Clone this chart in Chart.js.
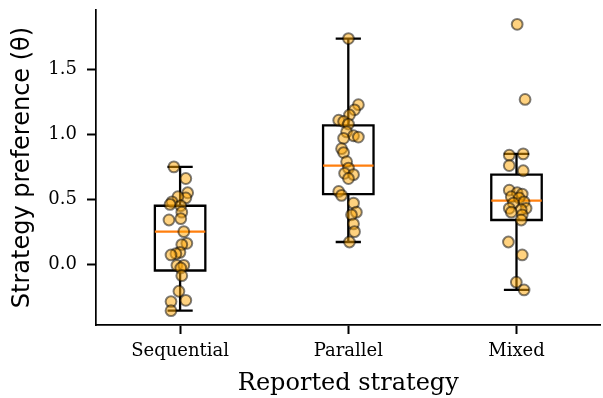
<!DOCTYPE html>
<html>
<head>
<meta charset="utf-8">
<script src="https://cdn.jsdelivr.net/npm/chart.js@4.4.1/dist/chart.umd.min.js"></script>
<style>
  html, body { margin: 0; padding: 0; background: #ffffff; }
  #frame { width: 603px; height: 398px; overflow: hidden; position: relative; }
  #holder { width: 608px; height: 398px; position: absolute; left: 0; top: 0; }
</style>
</head>
<body>
<div id="frame"><div id="holder"><canvas id="chart"></canvas></div></div>
<script>
// Groups and their box-plot summaries (whisker low, Q1, median, Q3, whisker high)
const categories = ['Sequential', 'Parallel', 'Mixed'];
const boxLow    = [-0.36, 0.17, -0.20];
const boxQ1     = [-0.05, 0.54,  0.34];
const boxMedian = [ 0.25, 0.76,  0.49];
const boxQ3     = [ 0.45, 1.07,  0.69];
const boxHigh   = [ 0.75, 1.74,  0.85];

// Individual participants: strategy preference and horizontal jitter per group
const sequentialValues = [0.75, 0.66, 0.55, 0.51, 0.52, 0.48, 0.46, 0.45, 0.40, 0.35, 0.34, 0.25, 0.16,
  0.15, 0.09, 0.08, 0.07, -0.01, -0.01, -0.03, -0.09, -0.21, -0.28, -0.29, -0.36];
const sequentialJitter = [-0.037, 0.034, 0.045, 0.034, -0.013, -0.048, -0.060, 0.004, 0.010, 0.004, -0.066,
  0.022, 0.040, 0.010, -0.001, -0.025, -0.054, -0.019, 0.022, 0.004, 0.010, -0.007, 0.034, -0.054, -0.054];

const parallelValues = [1.74, 1.23, 1.19, 1.15, 1.11, 1.10, 1.08, 1.02, 0.99, 0.98, 0.97, 0.89, 0.86,
  0.79, 0.74, 0.70, 0.69, 0.66, 0.56, 0.53, 0.47, 0.40, 0.38, 0.31, 0.25, 0.17];
const parallelJitter = [0.001, 0.060, 0.037, 0.007, -0.057, -0.028, 0.001, -0.010, 0.031, 0.060, -0.028,
  -0.040, -0.028, -0.010, 0.001, -0.022, 0.031, 0.001, -0.057, -0.040, 0.031, 0.048, 0.019, 0.031, 0.037, 0.007];

const mixedValues = [1.85, 1.27, 0.85, 0.84, 0.76, 0.72, 0.57, 0.55, 0.54, 0.52, 0.51, 0.48, 0.47,
  0.43, 0.43, 0.42, 0.40, 0.38, 0.34, 0.17, 0.07, -0.14, -0.20];
const mixedJitter = [0.004, 0.051, 0.040, -0.043, -0.043, 0.040, -0.043, 0.004, 0.034, -0.031, 0.016,
  0.045, -0.019, -0.043, 0.057, 0.028, -0.031, 0.034, 0.028, -0.048, 0.034, -0.001, 0.045];

const yTickValues = [0.0, 0.5, 1.0, 1.5];

const groupValues = [sequentialValues, parallelValues, mixedValues];
const groupJitter = [sequentialJitter, parallelJitter, mixedJitter];

// y limits with a 5% margin around all observations
const allValues = groupValues.flat();
const dataMin = Math.min(...allValues), dataMax = Math.max(...allValues);
const pad = (dataMax - dataMin) * 0.05;

const BOX_WIDTH = 0.3;
const CAP_WIDTH = 0.15;

const serif = '"DejaVu Serif", "Liberation Serif", serif';
const sans = '"DejaVu Sans", "Liberation Sans", sans-serif';

// Draws the box plots beneath the scattered points
const boxPlotPlugin = {
  id: 'boxPlot',
  beforeDatasetsDraw(chart) {
    const { ctx, scales: { x, y } } = chart;
    ctx.save();
    ctx.lineWidth = 2.3;
    ctx.lineCap = 'butt';
    categories.forEach((c, i) => {
      const pos = i + 1;
      const xl = x.getPixelForValue(pos - BOX_WIDTH / 2);
      const xr = x.getPixelForValue(pos + BOX_WIDTH / 2);
      const xc = x.getPixelForValue(pos);
      const cl = x.getPixelForValue(pos - CAP_WIDTH / 2);
      const cr = x.getPixelForValue(pos + CAP_WIDTH / 2);
      const yLo = y.getPixelForValue(boxLow[i]);
      const yQ1 = y.getPixelForValue(boxQ1[i]);
      const yMed = y.getPixelForValue(boxMedian[i]);
      const yQ3 = y.getPixelForValue(boxQ3[i]);
      const yHi = y.getPixelForValue(boxHigh[i]);

      ctx.strokeStyle = '#000000';
      ctx.beginPath();
      ctx.rect(xl, yQ3, xr - xl, yQ1 - yQ3);
      // whiskers
      ctx.moveTo(xc, yQ3); ctx.lineTo(xc, yHi);
      ctx.moveTo(xc, yQ1); ctx.lineTo(xc, yLo);
      // caps
      ctx.moveTo(cl, yHi); ctx.lineTo(cr, yHi);
      ctx.moveTo(cl, yLo); ctx.lineTo(cr, yLo);
      ctx.stroke();

      ctx.strokeStyle = '#ff7f0e';
      ctx.beginPath();
      ctx.moveTo(xl, yMed); ctx.lineTo(xr, yMed);
      ctx.stroke();
    });
    ctx.restore();
  }
};

const datasets = categories.map((c, i) => ({
  label: c,
  data: groupValues[i].map((v, k) => ({ x: i + 1 + groupJitter[i][k], y: v })),
  backgroundColor: 'rgba(255,165,0,0.5)',
  borderColor: 'rgba(0,0,0,0.5)',
  borderWidth: 2,
  pointRadius: 5.4,
  pointHoverRadius: 5.4
}));

new Chart(document.getElementById('chart'), {
  type: 'scatter',
  data: { datasets },
  plugins: [boxPlotPlugin],
  options: {
    responsive: true,
    maintainAspectRatio: false,
    animation: false,
    events: [],
    layout: { padding: { top: 10, right: 0, left: 0, bottom: 0 } },
    plugins: { legend: { display: false }, tooltip: { enabled: false } },
    scales: {
      x: {
        type: 'linear',
        min: 0.5,
        max: 3.5,
        afterBuildTicks(scale) { scale.ticks = categories.map((c, i) => ({ value: i + 1 })); },
        afterFit(scale) { scale.height = 73; scale.paddingLeft = 0; scale.paddingRight = 0; },
        ticks: {
          callback: (v) => categories[Math.round(v) - 1] ?? '',
          color: '#000000',
          font: { family: serif, size: 18 },
          padding: 7,
          maxRotation: 0
        },
        grid: { drawOnChartArea: false, color: '#000000', tickLength: 9, tickWidth: 2 },
        border: { display: true, color: '#000000', width: 1.7 },
        title: {
          display: true,
          text: 'Reported strategy',
          color: '#000000',
          font: { family: serif, size: 24 },
          padding: { top: 0, bottom: 0 }
        }
      },
      y: {
        min: dataMin - pad,
        max: dataMax + pad,
        afterBuildTicks(scale) { scale.ticks = yTickValues.map(v => ({ value: v })); },
        afterFit(scale) { scale.width = 96; scale.paddingTop = 0; scale.paddingBottom = 0; },
        ticks: {
          callback: (v) => Number(v).toFixed(1),
          color: '#000000',
          font: { family: serif, size: 18 },
          padding: 10
        },
        grid: { drawOnChartArea: false, color: '#000000', tickLength: 9, tickWidth: 2 },
        border: { display: true, color: '#000000', width: 1.7 },
        title: {
          display: true,
          text: 'Strategy preference (\u03B8)',
          color: '#000000',
          font: { family: sans, size: 24 },
          padding: { top: 8, bottom: 0 }
        }
      }
    }
  }
});
</script>
</body>
</html>
